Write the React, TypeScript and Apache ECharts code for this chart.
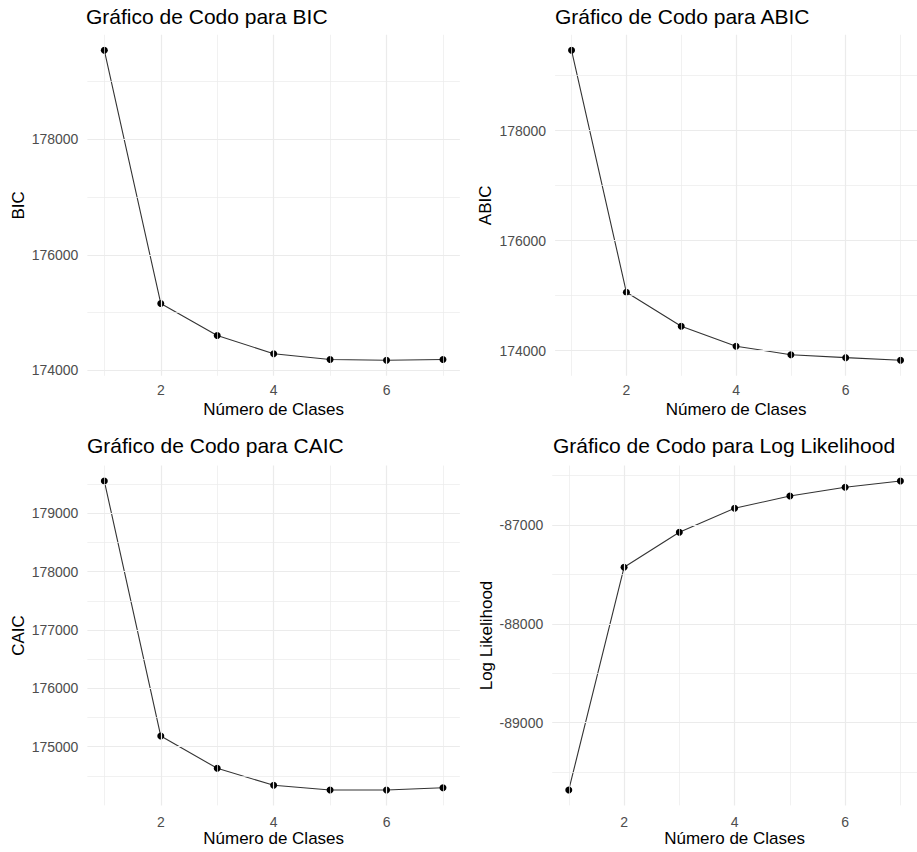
import React, { useEffect, useRef } from "react";
import * as echarts from "echarts";

const classes = [1, 2, 3, 4, 5, 6, 7];
const bicValues = [179538, 175158, 174605, 174289, 174190, 174175, 174190];
const abicValues = [179462, 175062, 174444, 174080, 173927, 173873, 173825];
const caicValues = [179555, 175183, 174629, 174338, 174258, 174258, 174297];
const logLikValues = [-89681, -87428, -87074, -86831, -86706, -86618, -86555];

const xMajorTicks = [2, 4, 6];
const xMinorTicks = [1, 3, 5, 7];
const bicMajorTicks = [174000, 176000, 178000];
const bicMinorTicks = [175000, 177000, 179000];
const abicMajorTicks = [174000, 176000, 178000];
const abicMinorTicks = [175000, 177000, 179000];
const caicMajorTicks = [175000, 176000, 177000, 178000, 179000];
const caicMinorTicks = [174500, 175500, 176500, 177500, 178500, 179500];
const llMajorTicks = [-89000, -88000, -87000];
const llMinorTicks = [-89500, -88500, -87500, -86500];

const titles = [
  "Gráfico de Codo para BIC",
  "Gráfico de Codo para ABIC",
  "Gráfico de Codo para CAIC",
  "Gráfico de Codo para Log Likelihood",
];
const yNames = ["BIC", "ABIC", "CAIC", "Log Likelihood"];
const xName = "Número de Clases";

const FONT = "'Liberation Sans', Arial, sans-serif";

function expand(vals: number[]): [number, number] {
  const lo = Math.min(...vals);
  const hi = Math.max(...vals);
  const pad = (hi - lo) * 0.05;
  return [lo - pad, hi + pad];
}

export default function App() {
  const ref = useRef<HTMLDivElement>(null);

  useEffect(() => {
    if (!ref.current) return;
    const chart = echarts.init(ref.current, undefined, { renderer: "svg" });

    const panels = [
      { vals: bicValues, major: bicMajorTicks, minor: bicMinorTicks, grid: { left: 87.4, top: 34.8, width: 372.5, height: 341 }, nameGap: 60, title: { left: 86, top: 6 } },
      { vals: abicValues, major: abicMajorTicks, minor: abicMinorTicks, grid: { left: 555.1, top: 34.8, width: 372, height: 341 }, nameGap: 61, title: { left: 555, top: 6 } },
      { vals: caicValues, major: caicMajorTicks, minor: caicMinorTicks, grid: { left: 87.4, top: 465.6, width: 372.5, height: 339.8 }, nameGap: 60, title: { left: 87, top: 435 } },
      { vals: logLikValues, major: llMajorTicks, minor: llMinorTicks, grid: { left: 552.2, top: 465.6, width: 375, height: 339.8 }, nameGap: 57, title: { left: 553, top: 435 } },
    ];

    const grids: any[] = [];
    const xAxes: any[] = [];
    const yAxes: any[] = [];
    const series: any[] = [];
    const titleOpts: any[] = [];

    panels.forEach((p, i) => {
      const [ymin, ymax] = expand(p.vals);
      grids.push({ ...p.grid, containLabel: false });
      titleOpts.push({
        text: titles[i],
        left: p.title.left,
        top: p.title.top,
        padding: 0,
        textStyle: { fontFamily: FONT, fontSize: 21, fontWeight: "normal", color: "#000" },
      });
      xAxes.push({
        type: "value",
        gridIndex: i,
        min: 0.7,
        max: 7.3,
        name: xName,
        nameLocation: "middle",
        nameGap: 25,
        nameTextStyle: { fontFamily: FONT, fontSize: 17, color: "#000" },
        axisLine: { show: false },
        axisTick: { show: false },
        splitLine: { show: false },
        axisLabel: {
          customValues: xMajorTicks,
          margin: i < 2 ? 7.5 : 9.5,
          fontFamily: FONT,
          fontSize: 14,
          color: "#4d4d4d",
          formatter: (v: number) => String(v),
        },
      });
      yAxes.push({
        type: "value",
        gridIndex: i,
        min: ymin,
        max: ymax,
        name: yNames[i],
        nameLocation: "middle",
        nameGap: p.nameGap,
        nameTextStyle: { fontFamily: FONT, fontSize: 17, color: "#000" },
        axisLine: { show: false },
        axisTick: { show: false },
        splitLine: { show: false },
        axisLabel: {
          customValues: p.major,
          margin: 9,
          fontFamily: FONT,
          fontSize: 14,
          color: "#4d4d4d",
          formatter: (v: number) => String(Math.round(v)),
        },
      });
      const gridLines = [
        ...p.major.map((v) => ({ yAxis: v, lineStyle: { width: 1.2 } })),
        ...p.minor.map((v) => ({ yAxis: v, lineStyle: { width: 0.7 } })),
        ...xMajorTicks.map((v) => ({ xAxis: v, lineStyle: { width: 1.2 } })),
        ...xMinorTicks.map((v) => ({ xAxis: v, lineStyle: { width: 0.7 } })),
      ];
      series.push({
        type: "line",
        xAxisIndex: i,
        yAxisIndex: i,
        data: [],
        z: 1,
        silent: true,
        markLine: {
          silent: true,
          symbol: "none",
          label: { show: false },
          animation: false,
          lineStyle: { color: "#ebebeb", type: "solid" },
          emphasis: { disabled: true },
          data: gridLines,
        },
      });
      series.push({
        type: "line",
        xAxisIndex: i,
        yAxisIndex: i,
        z: 3,
        data: classes.map((c, k) => [c, p.vals[k]]),
        symbol: "circle",
        symbolSize: 7,
        showSymbol: true,
        showAllSymbol: true,
        lineStyle: { color: "#333", width: 1.1 },
        itemStyle: { color: "#000", borderWidth: 0 },
        silent: true,
      });
    });

    chart.setOption({
      animation: false,
      backgroundColor: "#fff",
      title: titleOpts,
      grid: grids,
      xAxis: xAxes,
      yAxis: yAxes,
      series,
    });

    return () => chart.dispose();
  }, []);

  return (
    <div
      ref={ref}
      style={{ position: "fixed", left: 0, top: 0, width: 917, height: 852, background: "#fff" }}
    />
  );
}
